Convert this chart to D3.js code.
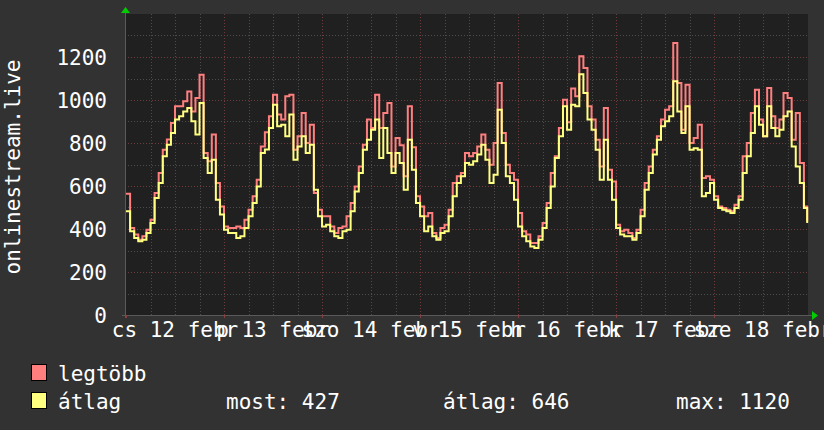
<!DOCTYPE html>
<html><head><meta charset="utf-8">
<script src="https://cdn.jsdelivr.net/npm/d3@7/dist/d3.min.js"></script>
<style>html,body{margin:0;padding:0;background:#323232;}svg{display:block;}</style>
</head><body>
<script>
// ---- data (hourly samples, starting Thu 12 Feb 00:00) ----
const maxVals = [564,405,374,350,366,397,443,567,660,769,816,893,971,971,994,1040,947,1009,1118,753,715,839,614,505,
412,405,405,412,405,443,490,552,629,784,850,924,1025,932,909,1017,1025,769,831,940,800,885,567,490,
459,459,412,381,405,412,459,521,598,691,792,909,870,1025,870,940,986,691,823,790,645,971,780,552,
505,459,474,381,358,405,420,490,614,645,660,753,738,753,784,839,769,699,800,1079,846,699,660,629,
474,389,374,335,335,366,428,521,660,738,870,1001,897,1054,1017,1203,1149,971,909,815,691,963,676,621,
420,389,397,381,358,397,490,614,691,769,831,909,955,971,1265,1079,862,1071,800,823,885,637,645,629,
552,505,498,490,482,513,552,738,800,940,1048,909,831,1056,924,870,909,1032,1009,815,940,707,505,436];
const avgVals = [482,389,358,343,350,381,428,544,614,738,792,846,909,924,947,963,901,840,986,730,660,722,536,467,
397,381,381,358,366,405,459,521,598,753,770,870,978,878,885,831,932,722,784,831,753,792,583,459,
412,420,389,366,358,389,397,482,574,660,769,815,862,909,730,870,753,660,753,707,583,815,676,521,
459,389,412,366,350,381,389,459,552,614,645,707,699,715,746,792,722,614,652,955,800,645,614,536,
412,366,343,319,312,350,405,498,598,730,831,971,862,978,971,1120,1032,909,862,769,629,815,629,536,
405,374,366,366,350,381,459,583,660,746,815,878,901,924,1087,947,846,971,769,776,769,552,567,614,
536,498,490,482,474,498,536,660,738,846,971,885,831,971,870,831,862,924,947,784,691,614,498,428];
const lastHour = 166.8;            // time of the final (current) sample
const dayLabels = ["cs 12 febr","p 13 febr","szo 14 febr","v 15 febr","h 16 febr","k 17 febr","sze 18 febr"];
const yTicks = [0,200,400,600,800,1000,1200];
const seriesNames = ["legtöbb","átlag"];
const seriesColors = ["#ff7f7f","#ffff80"];
const statLabels = ["most","átlag","max"];
const statValues = [427,646,1120];
const yTitle = "onlinestream.live";

// ---- layout ----
const W = 824, H = 430;
const L = 125, R = 808, T = 14, B = 315;
const FONT = "'DejaVu Sans Mono', monospace";

const svg = d3.select("body").append("svg").attr("width",W).attr("height",H);
svg.append("rect").attr("width",W).attr("height",H).attr("fill","#323232");
svg.append("rect").attr("x",L).attr("y",T).attr("width",R-L).attr("height",B-T).attr("fill","#202020");

const x = d3.scaleLinear().domain([-0.25, 167.0]).range([L, R]);
const y = d3.scaleLinear().domain([0, 1400]).range([B, T]);

const grid = svg.append("g").attr("shape-rendering","crispEdges");
// horizontal grid
d3.range(100, 1400, 100).forEach(v => {
  const major = v % 200 === 0;
  grid.append("line").attr("x1",L).attr("x2",R).attr("y1",Math.round(y(v))+0.5).attr("y2",Math.round(y(v))+0.5)
    .attr("stroke", major ? "#6e3c3c" : "#4c4c4c").attr("stroke-width",1).attr("stroke-dasharray","1,2");
});
// vertical grid
d3.range(6, 167, 6).forEach(h => {
  const major = h % 24 === 0;
  grid.append("line").attr("y1",T).attr("y2",B).attr("x1",Math.round(x(h))+0.5).attr("x2",Math.round(x(h))+0.5)
    .attr("stroke", major ? "#6e3c3c" : "#4c4c4c").attr("stroke-width",1).attr("stroke-dasharray","1,2");
});

// data lines
const pts = arr => arr.map((v,i) => [i === arr.length-1 ? lastHour : i, v]);
const line = d3.line().x(d => x(d[0])).y(d => y(d[1])).curve(d3.curveStepAfter);
[maxVals, avgVals].forEach((arr, k) => {
  svg.append("path").attr("d", line(pts(arr))).attr("fill","none")
    .attr("stroke", seriesColors[k]).attr("stroke-width",2).attr("stroke-linejoin","miter");
});

// axes
svg.append("line").attr("x1",L+0.5).attr("x2",L+0.5).attr("y1",T-2).attr("y2",B+3).attr("stroke","#5a5a5a");
svg.append("line").attr("x1",L-3).attr("x2",R+4).attr("y1",B+0.5).attr("y2",B+0.5).attr("stroke","#5a5a5a");
// tick marks
d3.range(0, 168, 24).forEach(h => {
  svg.append("line").attr("x1",Math.round(x(h))+0.5).attr("x2",Math.round(x(h))+0.5).attr("y1",B).attr("y2",B+3).attr("stroke","#8a4040");
});
// arrows
svg.append("path").attr("d",`M${L-4},${T-1}L${L+5},${T-1}L${L+0.5},${T-7}Z`).attr("fill","#00cc00");
svg.append("path").attr("d",`M${R+4},${B-4}L${R+4},${B+5}L${R+10},${B+0.5}Z`).attr("fill","#00cc00");

// y tick labels
svg.append("g").selectAll("text").data(yTicks).join("text")
  .attr("x",107).attr("y",d => y(d)).attr("dy","0.36em").attr("text-anchor","end")
  .attr("font-family",FONT).attr("font-size",21).attr("fill","#ffffff").text(d => d);

// x labels (centered at noon)
svg.append("g").selectAll("text").data(dayLabels).join("text")
  .attr("x",(d,i) => x(12 + 24*i)).attr("y",337).attr("text-anchor","middle")
  .attr("font-family",FONT).attr("font-size",21).attr("fill","#ffffff").text(d => d);

// y title
svg.append("text").attr("transform","translate(20,167) rotate(-90)").attr("text-anchor","middle")
  .attr("font-family",FONT).attr("font-size",21).attr("fill","#ffffff").text(yTitle);

// legend
const legY = [381, 409];
seriesNames.forEach((n,k) => {
  svg.append("rect").attr("x",31.5).attr("y",legY[k]-16.5).attr("width",15).attr("height",16)
    .attr("fill",seriesColors[k]).attr("stroke","#000").attr("stroke-width",1);
  svg.append("text").attr("x",58).attr("y",legY[k]).attr("font-family",FONT).attr("font-size",21)
    .attr("fill","#ffffff").text(n);
});
const statX = [226, 443, 676];
statLabels.forEach((s,i) => {
  svg.append("text").attr("x",statX[i]).attr("y",legY[1]).attr("font-family",FONT).attr("font-size",21)
    .attr("fill","#ffffff").text(s + ": " + statValues[i]);
});
</script>
</body></html>
